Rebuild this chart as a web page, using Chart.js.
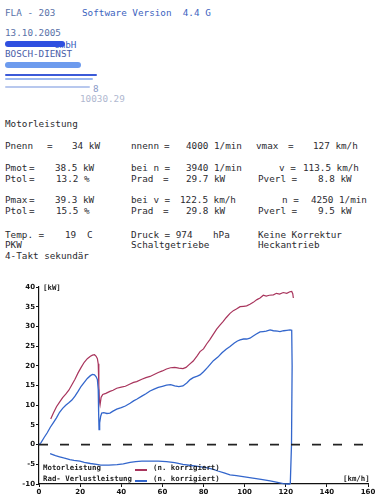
<!DOCTYPE html>
<html><head><meta charset="utf-8">
<script src="https://cdn.jsdelivr.net/npm/chart.js@4"></script>
<style>
html,body{margin:0;padding:0;background:#fff;}
body{width:383px;height:500px;position:relative;overflow:hidden;font-family:"DejaVu Sans Mono",monospace;}
.t{position:absolute;white-space:pre;font-size:9.3px;line-height:12px;color:#2b2b30;}
.hb{color:#3d64c0}
.hg{color:#5a72a8}
.sc{position:absolute;border-radius:3px;}
#wrap{position:absolute;left:0;top:270px;width:383px;height:230px;}
.lg{position:absolute;white-space:pre;font:bold 7.4px "DejaVu Sans Mono",monospace;color:#1c1c1c;line-height:9px;z-index:3}
.sw{position:absolute;height:1.5px;width:12px;z-index:3}
</style>
</head><body>
<div class="t hg" style="left:5px;top:7px">FLA - 203</div>
<div class="t hb" style="left:82px;top:7px">Software Version  4.4 G</div>
<div class="t hg" style="left:5px;top:27px">13.10.2005</div>
<div class="t hb" style="left:54px;top:39px">GmbH</div>
<div class="sc" style="left:5px;top:41px;width:60px;height:6px;background:#2f4fe0"></div>
<div class="t hg" style="left:5px;top:48px;color:#4a60a8">BOSCH-DIENST</div>
<div class="sc" style="left:5px;top:62px;width:76px;height:6px;background:#6d9bee"></div>
<div class="sc" style="left:5px;top:74px;width:92px;height:2px;background:#3b5ad8"></div>
<div class="sc" style="left:5px;top:78px;width:88px;height:1.5px;background:#9bb8f0"></div>
<div class="sc" style="left:5px;top:86px;width:85px;height:1.5px;background:#b8c8ee"></div>
<div class="t" style="left:93px;top:83px;color:#8a9ac8">8</div>
<div class="t" style="left:80px;top:93px;color:#b0b8d0">10030.29</div>

<div class="t" style="left:5px;top:118px">Motorleistung</div>

<div class="t" style="left:5px;top:140px">Pnenn</div>
<div class="t" style="left:47px;top:140px">=</div>
<div class="t" style="left:72px;top:140px">34 kW</div>
<div class="t" style="left:131px;top:140px">nnenn</div>
<div class="t" style="left:164px;top:140px">=</div>
<div class="t" style="left:186px;top:140px">4000 1/min</div>
<div class="t" style="left:256px;top:140px">vmax</div>
<div class="t" style="left:288px;top:140px">=</div>
<div class="t" style="left:313px;top:140px">127 km/h</div>

<div class="t" style="left:5px;top:162px">Pmot</div>
<div class="t" style="left:29px;top:162px">=</div>
<div class="t" style="left:55px;top:162px">38.5 kW</div>
<div class="t" style="left:131px;top:162px">bei n =</div>
<div class="t" style="left:186px;top:162px">3940 1/min</div>
<div class="t" style="left:279px;top:162px">v =</div>
<div class="t" style="left:303px;top:162px">113.5 km/h</div>

<div class="t" style="left:5px;top:173px">Ptol</div>
<div class="t" style="left:29px;top:173px">=</div>
<div class="t" style="left:56px;top:173px">13.2 %</div>
<div class="t" style="left:131px;top:173px">Prad</div>
<div class="t" style="left:163px;top:173px">=</div>
<div class="t" style="left:186px;top:173px">29.7 kW</div>
<div class="t" style="left:258px;top:173px">Pverl =</div>
<div class="t" style="left:318px;top:173px">8.8 kW</div>

<div class="t" style="left:5px;top:194px">Pmax</div>
<div class="t" style="left:29px;top:194px">=</div>
<div class="t" style="left:55px;top:194px">39.3 kW</div>
<div class="t" style="left:131px;top:194px">bei v =</div>
<div class="t" style="left:180px;top:194px">122.5 km/h</div>
<div class="t" style="left:282px;top:194px">n =</div>
<div class="t" style="left:311px;top:194px">4250 1/min</div>

<div class="t" style="left:5px;top:205px">Ptol</div>
<div class="t" style="left:29px;top:205px">=</div>
<div class="t" style="left:56px;top:205px">15.5 %</div>
<div class="t" style="left:131px;top:205px">Prad</div>
<div class="t" style="left:163px;top:205px">=</div>
<div class="t" style="left:186px;top:205px">29.8 kW</div>
<div class="t" style="left:258px;top:205px">Pverl =</div>
<div class="t" style="left:318px;top:205px">9.5 kW</div>

<div class="t" style="left:5px;top:229px">Temp. =</div>
<div class="t" style="left:65px;top:229px">19</div>
<div class="t" style="left:87px;top:229px">C</div>
<div class="t" style="left:131px;top:229px">Druck = 974</div>
<div class="t" style="left:213px;top:229px">hPa</div>
<div class="t" style="left:258px;top:229px">Keine Korrektur</div>
<div class="t" style="left:5px;top:239px">PKW</div>
<div class="t" style="left:131px;top:239px">Schaltgetriebe</div>
<div class="t" style="left:258px;top:239px">Heckantrieb</div>
<div class="t" style="left:5px;top:250px">4-Takt sekundär</div>

<div id="wrap"><canvas id="c" width="383" height="230"></canvas></div>

<div class="lg" style="left:43px;top:283px">[kW]</div>
<div class="lg" style="left:43px;top:463px">Motorleistung</div>
<div class="sw" style="left:135px;top:469px;background:#a8345c"></div>
<div class="lg" style="left:153px;top:463px">(n. korrigiert)</div>
<div class="lg" style="left:43px;top:474px">Rad- Verlustleistung</div>
<div class="sw" style="left:135px;top:480px;background:#3366cc"></div>
<div class="lg" style="left:153px;top:474px">(n. korrigiert)</div>
<div class="lg" style="left:343px;top:474px">[km/h]</div>

<script>
// X axis: speed [km/h]; Y axis: power [kW]
const xTicks = [0,20,40,60,80,100,120,140,160];
const yTicks = [-10,-5,0,5,10,15,20,25,30,35,40];

// Motorleistung (engine power), red
const motorSpeed = [5.7,7,8.5,10,11.5,13,14.5,16,17.5,19,20.5,22,23.5,25,26,27,27.8,28.4,28.8,29.1,29.4,29.7,30.2,31,32.5,34.5,36,37.8,40,42,44.3,46,47.5,50,52,54,56,58,60,62,64,66,68,70,71.5,73,75,77,78.3,80,81.6,83,84.5,86.4,88,89.5,91,92.9,94.5,96,97.8,99.5,101,102.6,104.2,106,107.5,109.1,110.5,112,114,115.5,117,118.8,120.5,122,122.9,123.4,123.7];
const motorPower = [6.5,8,9.6,10.8,11.9,12.8,13.8,15.2,16.6,18.2,19.6,20.9,21.8,22.4,22.7,22.8,22.4,21.8,20.5,15,11,10.1,12,12.7,13,13.5,13.8,14.3,14.6,14.8,15.4,15.8,16,16.6,17,17.3,17.8,18.3,18.7,19.2,19.5,19.6,19.4,19.3,19.6,20.3,21.2,22.6,23.6,24.3,25.6,26.6,27.8,29.3,30.3,31.2,32.2,33.3,34,34.4,35,35.1,35.2,35.6,36.1,36.8,37.2,37.9,37.7,37.9,38,38.4,38.2,38.6,38.4,38.8,38.9,38.3,37.2];

// Radleistung (wheel power), blue
const wheelSpeed = [0,1,2.5,4,5.5,7,8.5,10,11.5,13,14.5,16,17.5,19,20.5,22,23.5,25,26,27,27.8,28.4,28.8,29.0,29.2,29.5,30,30.5,31.5,33,34.5,36,37.8,40,42,44.3,46,47.5,50,52,54,56,58,60,62,64,66,68,70,72,73.5,75,77,78.3,80,82,84.8,87,89,91,92.9,95,96.5,97.8,99.5,101,102.6,104,105.5,107.5,109,110.5,112.4,114,116,117.2,119,120.5,122.1,122.9,123.1,122.8,122.2];
const wheelPower = [0,0.5,1.8,3,4.4,5.6,6.8,8.2,9.2,10,10.6,11.3,12.3,13.5,14.8,15.8,16.8,17.5,17.8,17.7,17.2,16.5,14,8,3.8,5.5,7.2,8,8.1,7.9,8,8.5,9,9.4,9.8,10.5,11.1,11.5,12.3,12.9,13.6,14.1,14.5,14.8,15.1,15.2,14.9,14.7,14.9,15.7,16.5,17,17.4,17.7,18.5,19.6,21.3,22.2,23.3,24.2,24.9,25.8,26.3,26.6,26.8,26.8,27,27.5,28,28.6,28.7,28.8,29.1,28.9,28.8,28.7,28.9,29,29.1,29,20,0,-10];

// Verlustleistung (loss power, coast-down), blue
const lossSpeed = [122.2,121,118.8,116,112.4,108,104,100,96,92.9,90,87,84.8,82,78,74,70,66,62,58,54,50,47,44.3,41,38,34,30,28,25,22,19.9,17,15,12,10,8,5.4];
const lossPower = [-10,-10,-9.9,-9.6,-9.2,-8.8,-8.5,-8.2,-7.9,-7.7,-7.2,-6.7,-6.3,-5.9,-5.6,-5.3,-5.0,-4.6,-4.3,-4.2,-4.2,-4.2,-4.3,-4.5,-4.9,-5.1,-5.2,-5.2,-5.0,-4.8,-4.5,-4.2,-4.0,-3.8,-3.4,-3.1,-2.8,-2.3];

// zero reference line
const zeroSpeed = [0,158];
const zeroPower = [0,0];

const pts = (xs, ys) => xs.map((x, i) => ({x, y: ys[i]}));
const tickFont = {family:'DejaVu Sans', size:7, weight:'bold'};

new Chart(document.getElementById('c'), {
  type: 'line',
  data: {
    datasets: [
      {label:'Null', data: pts(zeroSpeed, zeroPower), borderColor:'#222', borderWidth:1.6, borderDash:[9,12], pointRadius:0},
      {label:'Verlustleistung', data: pts(lossSpeed, lossPower), borderColor:'#3366cc', borderWidth:1.3, pointRadius:0},
      {label:'Radleistung', data: pts(wheelSpeed, wheelPower), borderColor:'#3366cc', borderWidth:1.3, pointRadius:0},
      {label:'Motorleistung', data: pts(motorSpeed, motorPower), borderColor:'#a8345c', borderWidth:1.2, pointRadius:0}
    ]
  },
  options: {
    responsive: false,
    animation: false,
    parsing: true,
    layout: {padding: {top: 17, right: 15, left: 0, bottom: 0}},
    plugins: {legend: {display: false}, tooltip: {enabled: false}},
    elements: {line: {tension: 0}},
    datasets: {line: {clip: false}},
    scales: {
      x: {
        type: 'linear', min: 0, max: 160,
        afterBuildTicks: s => { s.ticks = xTicks.map(v => ({value: v})); },
        afterFit: s => { s.height = 16; },
        ticks: {font: tickFont, color: '#111', padding: 1, maxRotation: 0, autoSkip: false},
        grid: {display: true, drawOnChartArea: false, drawTicks: true, tickLength: 3, color: '#111'},
        border: {display: true, color: '#111', width: 1.2}
      },
      y: {
        type: 'linear', min: -10, max: 40,
        afterBuildTicks: s => { s.ticks = yTicks.map(v => ({value: v})); },
        afterFit: s => { s.width = 39; },
        ticks: {font: tickFont, color: '#111', padding: 1},
        grid: {display: true, drawOnChartArea: false, drawTicks: true, tickLength: 3, color: '#111'},
        border: {display: true, color: '#111', width: 1.2}
      }
    }
  }
});
</script>
</body></html>
